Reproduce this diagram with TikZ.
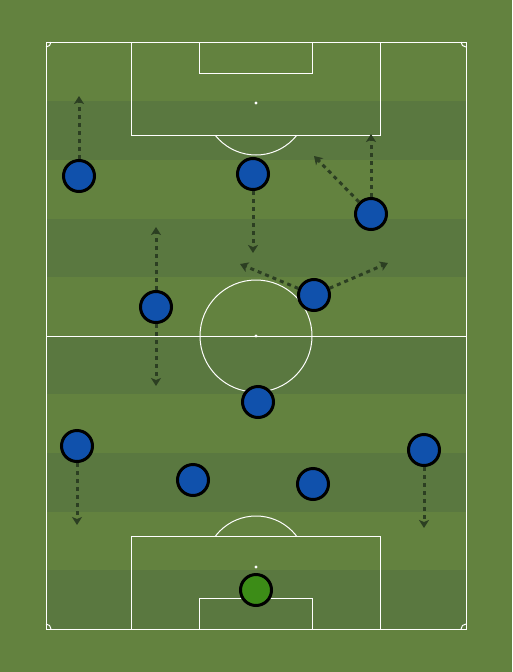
\documentclass[tikz,border=0pt]{standalone}
\usetikzlibrary{arrows.meta}
\definecolor{grassL}{HTML}{63823F}
\definecolor{grassD}{HTML}{5A7840}
\definecolor{plblue}{HTML}{1051AC}
\definecolor{gkgreen}{HTML}{3C8C17}
\definecolor{arrowc}{HTML}{2C3F22}
\tikzset{
  pline/.style={white, line width=1pt},
  player/.style={circle, draw=black, line width=3pt, fill=plblue, minimum size=31pt, inner sep=0pt},
  keeper/.style={player, fill=gkgreen},
  run/.style={arrowc, line width=3pt, dash pattern=on 4pt off 4pt, -{Stealth[length=8pt,width=10pt,inset=2pt]}}
}
\begin{document}
\begin{tikzpicture}[x=1pt,y=-1pt]
\useasboundingbox (0,0) rectangle (512,672);
\fill[grassL] (0,0) rectangle (512,672);
% stripes
\foreach \a/\b in {101/160, 219/277, 336/394, 453/512, 570/629}
  \fill[grassD] (46,\a) rectangle (466,\b);
% pitch lines
\draw[pline] (46,42) rectangle (466,629);
\draw[pline] (46,336) -- (466,336);
\draw[pline] (256,336) circle (56);
\fill[white] (256,336) circle (1.6);
% top
\draw[pline] (131,42) rectangle (380,135);
\draw[pline] (199,42) rectangle (312,73);
\fill[white] (256,103) circle (1.6);
\begin{scope}
\clip (131,135) rectangle (380,200);
\draw[pline] (256,103) circle (52);
\end{scope}
% bottom
\draw[pline] (131,536) rectangle (380,629);
\draw[pline] (199,598) rectangle (312,629);
\fill[white] (256,567) circle (1.6);
\begin{scope}
\clip (131,470) rectangle (380,536);
\draw[pline] (256,567) circle (51);
\end{scope}
% corners
\draw[pline] (51,42) arc[start angle=0, end angle=90, radius=5];
\draw[pline] (461,42) arc[start angle=180, end angle=90, radius=5];
\draw[pline] (51,629) arc[start angle=0, end angle=-90, radius=5];
\draw[pline] (461,629) arc[start angle=180, end angle=270, radius=5];
% players
\node[player] (p1) at (79,176) {};
\node[player] (p2) at (253,174) {};
\node[player] (p3) at (371,214) {};
\node[player] (p4) at (314,295) {};
\node[player] (p5) at (156,307) {};
\node[player] (p6) at (258,402) {};
\node[player] (p7) at (77,446) {};
\node[player] (p8) at (193,480) {};
\node[player] (p9) at (313,484) {};
\node[player] (p10) at (424,450) {};
\node[keeper] (gk) at (256,590) {};
% run targets
\coordinate (t1) at (79,96);
\coordinate (t2) at (253,253);
\coordinate (t3a) at (371,134);
\coordinate (t3b) at (314,156);
\coordinate (t4a) at (240,264);
\coordinate (t4b) at (388,263);
\coordinate (t5a) at (156,227);
\coordinate (t5b) at (156,386);
\coordinate (t7) at (77,525);
\coordinate (t10) at (424,528);
% runs
\draw[run] (p1) -- (t1);
\draw[run] (p2) -- (t2);
\draw[run] (p3) -- (t3a);
\draw[run] (p3.north west) -- (t3b);
\draw[run] (p4) -- (t4a);
\draw[run] (p4) -- (t4b);
\draw[run] (p5) -- (t5a);
\draw[run] (p5) -- (t5b);
\draw[run] (p7) -- (t7);
\draw[run] (p10) -- (t10);
\end{tikzpicture}
\end{document}
